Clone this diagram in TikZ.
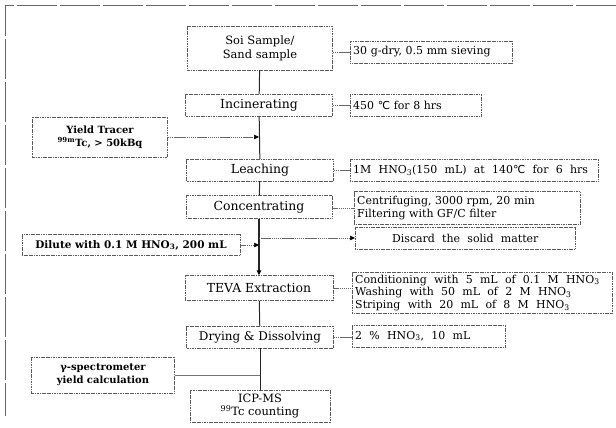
\documentclass[tikz,border=0pt]{standalone}
\usepackage{fontspec}
\setmainfont{DejaVu Serif}
\newfontfamily\symfont{DejaVu Sans}
\usetikzlibrary{arrows.meta}

\newcommand{\degc}{{\symfont ℃}}
\newcommand{\hno}{HNO\textsubscript{3}}
\newcommand{\widespace}{\spaceskip=7.3pt plus 1pt minus 1pt\relax}

\begin{document}
\begin{tikzpicture}[x=1bp,y=-1bp,
  stepbox/.style={draw=black!65,dash pattern=on 1.2pt off .5pt,line width=.5pt,fill=white,
   minimum height=22bp,align=center,inner sep=2pt,font=\fontsize{12.5}{14}\selectfont},
  twoline/.style={font=\fontsize{11.5}{14}\selectfont},
  notebox/.style={stepbox,align=left,anchor=west,inner xsep=3pt,font=\fontsize{11}{13}\selectfont},
  widesp/.style={font=\fontsize{11}{13}\selectfont,execute at begin node=\widespace},
  sidebox/.style={stepbox,font=\fontsize{10}{13}\selectfont\bfseries},
  main/.style={line width=1pt,black!85},
  link/.style={black!60,dash pattern=on 1.5pt off .6pt,line width=.5pt},
  tip/.style={-{Triangle[length=5bp,width=4.5bp,color=black]}}]
 \useasboundingbox (0,0) rectangle (616,427);
 \draw[black!60,line width=.6pt,dash pattern=on 40bp off 3bp] (616,5)--(5,5)--(5,416);

 \node[stepbox,twoline,minimum width=145bp,minimum height=44bp] (soi) at (260,48) {Soi Sample/\\Sand sample};
 \node[stepbox,minimum width=147bp] (inc) at (259,105) {Incinerating};
 \node[stepbox,minimum width=147bp] (leach) at (260,170) {Leaching};
 \node[stepbox,minimum width=146bp,minimum height=23bp] (conc) at (259,207) {Concentrating};
 \node[stepbox,minimum width=148bp,minimum height=25bp] (teva) at (259,288) {TEVA Extraction};
 \node[stepbox,font=\fontsize{12}{14}\selectfont,minimum width=147bp] (dry) at (260,337) {Drying \& Dissolving};
 \node[stepbox,twoline,minimum width=140bp,minimum height=32bp] (icp) at (260,406) {ICP-MS\\\textsuperscript{99}Tc counting};

 \node[notebox,text width=156bp] (sieve) at (350,52) {30 g-dry, 0.5 mm sieving};
 \node[notebox,text width=125bp] (heat) at (350,105) {450 \degc{} for 8 hrs};
 \node[notebox,widesp,text width=242bp] (acid) at (350,170) {1M \hno(150 mL) at 140\degc{} for 6 hrs};
 \node[notebox,text width=220bp,minimum height=33bp] (spin) at (354,208) {Centrifuging, 3000 rpm, 20 min\\Filtering with GF/C filter};
 \node[stepbox,widesp,anchor=west,minimum width=220bp] (waste) at (355,238) {Discard the solid matter};
 \node[notebox,widesp,text width=254bp] (elute) at (352,293) {Conditioning with 5 mL of 0.1 M \hno\\Washing with 50 mL of 2 M \hno\\Striping with 20 mL of 8 M \hno};
 \node[notebox,widesp,text width=147bp] (redis) at (352,336) {2 \% \hno, 10 mL};

 \node[sidebox,minimum width=135bp,minimum height=40bp] (tracer) at (100,137) {Yield Tracer\\\textsuperscript{99m}Tc, > 50kBq};
 \node[sidebox,font=\fontsize{10.5}{13}\selectfont\bfseries,minimum width=218bp,minimum height=21bp] (dilute) at (131,245) {Dilute with 0.1 M \hno, 200 mL};
 \node[sidebox,minimum width=143bp,minimum height=36bp] (gamma) at (103,375) {γ-spectrometer\\yield calculation};

 \draw[main] (soi) -- (inc);
 \draw[main] (inc) -- (leach);
 \draw[main] (leach) -- (conc);
 \draw[main,line width=1.3pt,tip] (conc) -- (teva);
 \draw[main] (teva) -- (dry);
 \draw[main] (dry) -- (icp);

 \draw[link] (sieve.west -| soi.east) -- (sieve.west);
 \draw[link] (inc) -- (heat);
 \draw[link] (leach) -- (acid);
 \draw[link] (spin.west -| conc.east) -- (spin.west);
 \draw[link] (teva) -- (elute.west |- teva);
 \draw[link] (dry) -- (redis.west |- dry);
 \draw[link,tip] (waste.west -| conc.south) -- (waste);
 \draw[link,tip] (tracer) -- (tracer -| inc.south);
 \draw[link,tip] (dilute) -- (dilute -| conc.south);
 \draw[black!55,line width=.8pt] (gamma) -- (gamma -| dry.south);
\end{tikzpicture}
\end{document}
